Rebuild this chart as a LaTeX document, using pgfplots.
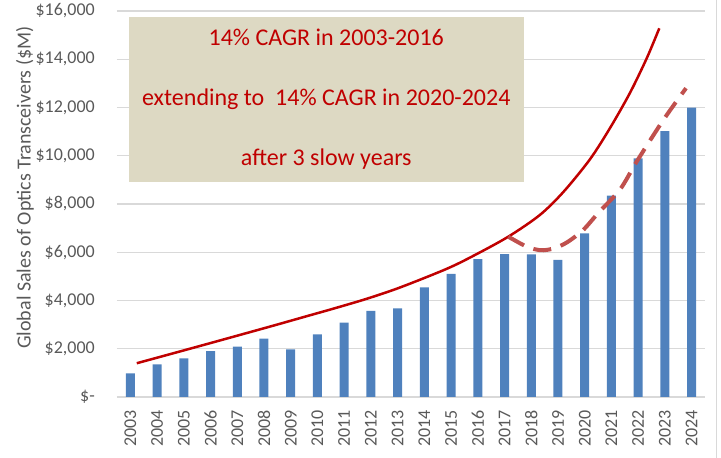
\documentclass[border=0pt]{standalone}
\usepackage{fontspec}
\setmainfont{Carlito}
\usepackage{pgfplots}
\pgfplotsset{compat=1.18}

\definecolor{barblue}{HTML}{4F81BD}
\definecolor{trendred}{HTML}{C00000}
\definecolor{dashred}{HTML}{C0504D}
\definecolor{boxtan}{HTML}{DDD9C3}
\definecolor{txtgray}{HTML}{595959}
\definecolor{gridgray}{HTML}{D9D9D9}

\begin{document}
\begin{tikzpicture}
\begin{axis}[
    scale only axis,
    width=588pt, height=386pt,
    at={(0,0)}, anchor=south west,
    xmin=-0.5, xmax=21.5,
    ymin=0, ymax=16000,
    scaled y ticks=false,
    axis lines*=left,
    y axis line style={draw=none},
    x axis line style={draw=gridgray, line width=1.2pt},
    major tick length=0pt,
    ymajorgrids,
    grid style={draw=gridgray, line width=1.2pt},
    ytick={0,2000,...,16000},
    yticklabels={{\$-\hspace{12pt}},{\$2,000},{\$4,000},{\$6,000},{\$8,000},{\$10,000},{\$12,000},{\$14,000},{\$16,000}},
    xtick={0,...,21},
    xticklabels={2003,2004,2005,2006,2007,2008,2009,2010,2011,2012,2013,2014,2015,2016,2017,2018,2019,2020,2021,2022,2023,2024},
    tick label style={font=\fontsize{18}{20}\selectfont, text=txtgray},
    yticklabel style={anchor=east, inner sep=0pt},
    yticklabel shift=22pt,
    xticklabel style={rotate=90, anchor=east, inner sep=0pt},
    xticklabel shift=13pt,
    clip=false,
]

% annotation box
\fill[boxtan] (axis cs:-0.05,8899) rectangle (axis cs:14.72,15764);
\node[anchor=base, text=trendred, font=\fontsize{24}{28}\selectfont] at (axis cs:7.33,14561) {14\% CAGR in 2003-2016};
\node[anchor=base, text=trendred, font=\fontsize{24}{28}\selectfont] at (axis cs:7.33,12075) {extending to\ \ 14\% CAGR in 2020-2024};
\node[anchor=base, text=trendred, font=\fontsize{24}{28}\selectfont] at (axis cs:7.33,9616) {after 3 slow years};

% sales bars
\addplot[ybar, bar width=9pt, fill=barblue, draw=none] coordinates {
(0,980) (1,1355) (2,1605) (3,1905) (4,2085) (5,2415) (6,1975) (7,2600) (8,3080) (9,3565) (10,3675)
(11,4545) (12,5100) (13,5720) (14,5925) (15,5915) (16,5680) (17,6785) (18,8345) (19,9895) (20,11025) (21,11990)
};

% 14% CAGR trend (2003-2016 extended)
\addplot[smooth, trendred, line width=2.5pt] coordinates {
(0.24,1400) (1.73,1850) (2.98,2230) (4.22,2610) (5.47,2995) (6.6,3350) (7.59,3660) (8.84,4070)
(10.09,4540) (11.83,5310) (12.83,5850) (14.14,6645) (15.32,7544) (16.2,8497) (17.19,9844)
(17.94,11137) (18.69,12600) (19.32,14040) (19.79,15283)
};

% slow years then 14% CAGR again
\addplot[smooth, dashred, line width=4pt, dash pattern=on 18pt off 10pt] coordinates {
(14.14,6645) (14.83,6230) (15.3,6090) (15.6,6100) (15.95,6200) (16.38,6440) (16.94,6920)
(17.5,7620) (18.32,8600) (18.94,9750) (19.94,11480) (20.79,12800)
};

% y label and right frame line
\node[rotate=90, anchor=center, text=txtgray, font=\fontsize{20}{22}\selectfont] at (rel axis cs:-0.1565,0.5427) {Global Sales of Optics Transceivers (\$M)};
\draw[gridgray, line width=1pt] (rel axis cs:1.0204,-0.16) -- (rel axis cs:1.0204,1.03);
\end{axis}
\pgfresetboundingbox
\useasboundingbox (-117pt,-61pt) rectangle (604pt,397pt);
\end{tikzpicture}
\end{document}
